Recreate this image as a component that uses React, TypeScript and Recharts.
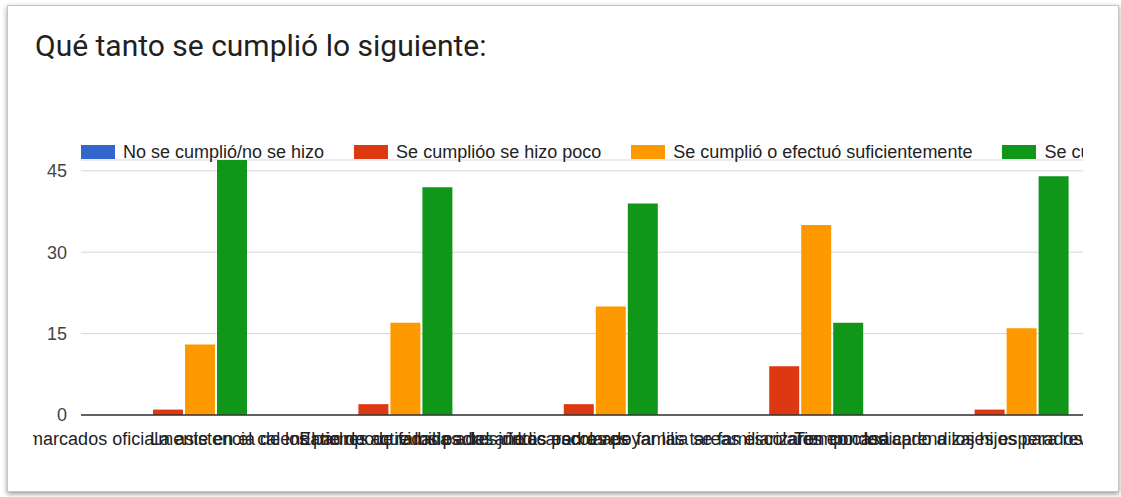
import React from 'react';
import { BarChart, Bar, XAxis, YAxis, CartesianGrid, Legend } from 'recharts';

const categories = [
  'Se respetaron los días marcados oficialmente en el calendario de actividades del año',
  'La asistencia de los padres de familia a las juntas escolares',
  'El tiempo que los padres dedicaron a apoyar las tareas escolares en casa',
  'Los padres de familia se familiarizaron con los aprendizajes esperados',
  'Tiempo dedicado a los hijos para revisar su progreso',
];
const seriesNames = [
  'No se cumplió/no se hizo',
  'Se cumplióo se hizo poco',
  'Se cumplió o efectuó suficientemente',
  'Se cumplió o efectuó totalmente',
];
const noSeCumplio = [0, 0, 0, 0, 0];
const seHizoPoco = [1, 2, 2, 9, 1];
const suficiente = [13, 17, 20, 35, 16];
const totalmente = [47, 42, 39, 17, 44];
const yTicks = [0, 15, 30, 45];
const colors = ['#3366cc', '#dc3912', '#ff9900', '#109618'];

const data = categories.map((name, i) => ({
  name,
  s0: noSeCumplio[i],
  s1: seHizoPoco[i],
  s2: suficiente[i],
  s3: totalmente[i],
}));

const FONT = '"Liberation Sans", Arial, sans-serif';

const XTick = (props: any) => {
  const { x, y, payload } = props;
  return (
    <text x={x} y={y} dy={30} textAnchor="middle" fontSize={18} fill="#222" fontFamily={FONT}>
      {payload.value}
    </text>
  );
};

const renderLegend = () => (
  <div style={{ display: 'flex', alignItems: 'center', whiteSpace: 'nowrap', fontFamily: FONT, fontSize: 18, lineHeight: '18px', color: '#222' }}>
    {seriesNames.map((name, i) => (
      <div key={i} style={{ display: 'flex', alignItems: 'center', marginRight: 30 }}>
        <div style={{ width: 34, height: 14, background: colors[i], marginRight: 8 }} />
        <span>{name}</span>
      </div>
    ))}
  </div>
);

export default function App() {
  return (
    <div style={{ position: 'absolute', left: 0, top: 0, width: 1121, height: 497, background: '#fff', overflow: 'hidden' }}>
      <div
        style={{
          position: 'absolute',
          left: 7,
          top: 5,
          width: 1110,
          height: 485,
          border: '1px solid #c4c4c4',
          boxShadow: '0 2px 5px rgba(0,0,0,0.4)',
          background: '#fff',
        }}
      />
      <div
        style={{
          position: 'absolute',
          left: 35,
          top: 28,
          fontFamily: 'Roboto, sans-serif',
          fontSize: 30,
          color: '#212121',
          whiteSpace: 'nowrap',
        }}
      >
        Qué tanto se cumplió lo siguiente:
      </div>
      <div style={{ position: 'absolute', left: 33, top: 120, width: 1050, height: 360, overflow: 'hidden' }}>
        <div style={{ position: 'absolute', left: -33, top: -120 }}>
          <BarChart
            width={1200}
            height={480}
            data={data}
            margin={{ top: 160, right: 92, bottom: 35, left: 0 }}
            barSize={30}
            barGap={2}
          >
            <CartesianGrid horizontal vertical={false} stroke="#d6d6d6" />
            <XAxis
              dataKey="name"
              interval={0}
              tick={<XTick />}
              tickLine={false}
              tickSize={0}
              tickMargin={0}
              axisLine={{ stroke: '#333', strokeWidth: 1.5 }}
              height={30}
            />
            <YAxis
              width={81}
              domain={[0, 47]}
              ticks={yTicks}
              axisLine={false}
              tickLine={false}
              tickSize={0}
              tickMargin={14}
              tick={{ fontSize: 18, fill: '#444', fontFamily: FONT }}
            />
            <Legend
              verticalAlign="middle"
              align="center"
              layout="horizontal"
              wrapperStyle={{ top: 143, left: 81, width: 1200, height: 18 }}
              content={renderLegend}
            />
            <Bar dataKey="s0" name={seriesNames[0]} fill={colors[0]} isAnimationActive={false} />
            <Bar dataKey="s1" name={seriesNames[1]} fill={colors[1]} isAnimationActive={false} />
            <Bar dataKey="s2" name={seriesNames[2]} fill={colors[2]} isAnimationActive={false} />
            <Bar dataKey="s3" name={seriesNames[3]} fill={colors[3]} isAnimationActive={false} />
          </BarChart>
        </div>
      </div>
    </div>
  );
}
